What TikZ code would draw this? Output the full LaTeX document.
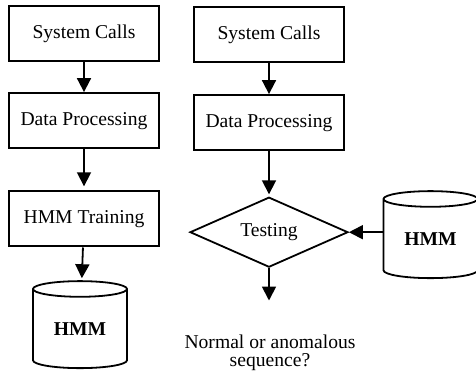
\documentclass[tikz,border=0pt]{standalone}
\usepackage{fontspec}
\setmainfont{Liberation Serif}
\usetikzlibrary{positioning, arrows.meta, shapes.geometric}

\begin{document}
\begin{tikzpicture}[
    x=1pt, y=1pt,
    font=\fontsize{9.8}{11.5}\selectfont,
    box/.style = {shape=rectangle, draw, line width=1.1pt,
    minimum width=75pt, minimum height=27.5pt, align=center},
    dbase/.style = {shape=cylinder, shape border rotate=90, aspect=0.3,
    draw, line width=0.9pt, minimum width=47pt, minimum height=43.5pt,
    inner sep=0pt, font=\fontsize{9.8}{11.5}\selectfont\bfseries},
    decision/.style = {shape=diamond, aspect=2.25, draw, line width=0.9pt,
    minimum width=79pt, minimum height=35pt, inner sep=0pt},
    line/.style={draw, line width=0.9pt, -{Triangle[width=7pt,length=7pt]}}]

    \useasboundingbox (0,0) rectangle (238,-189);

    % training
    \node[box] (sys1) at (42,-16.75) {System Calls};
    \node[box, below=15pt of sys1] (proc1) {Data Processing};
    \node[box, below=20.5pt of proc1] (train) {HMM Training};
    \node[dbase] (model1) at (40,-164.5) {HMM};

    % testing
    \node[box] (sys2) at (134.5,-17.25) {System Calls};
    \node[box, below=15.5pt of sys2] (proc2) {Data Processing};
    \node[decision, below=22.5pt of proc2] (test) {Testing};
    \node[dbase] (model2) at (215.25,-119.5) {HMM};
    \node[align=center, inner sep=0pt,
        font=\fontsize{9.8}{9.2}\selectfont] (result) at (135,-176.5)
        {Normal or anomalous\\sequence?};

  \draw [line] (sys1) -- (proc1);
  \draw [line, shorten >= 2pt] (proc1) -- (train);
  \draw [line, shorten >= 1pt] (train) -- (model1);

  \draw [line] (sys2) -- (proc2);
  \draw [line, shorten >= 1pt] (proc2) -- (test);
  \draw [line] (test.east -| model2.west) -- (test.east);
  \draw [line, shorten >= 17pt] (test.south) -- (test.south |- result.north);

  \end{tikzpicture}
\end{document}
